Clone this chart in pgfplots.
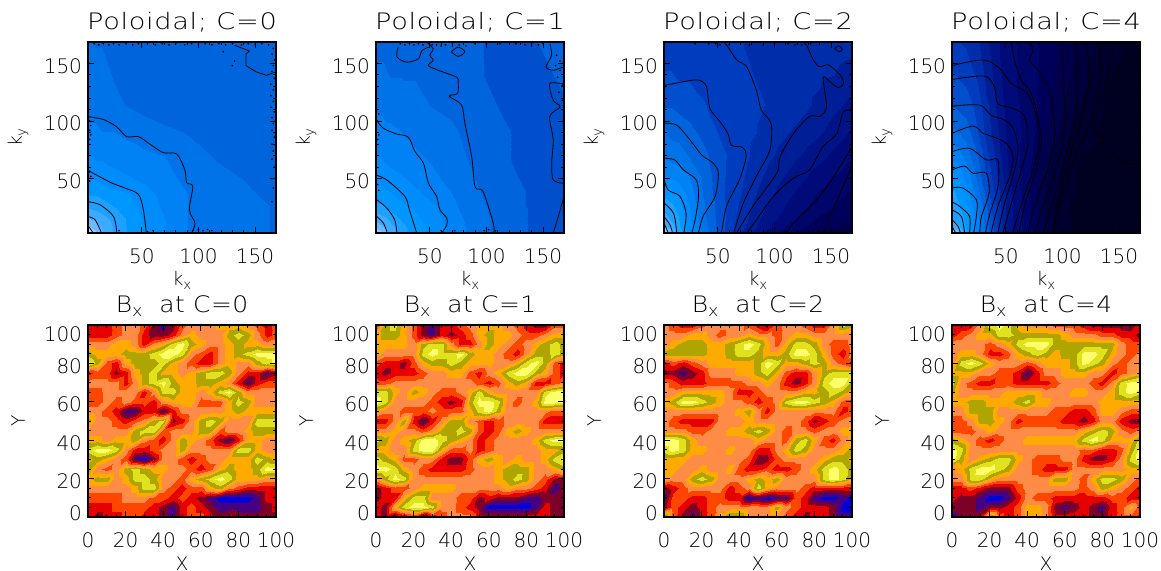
\documentclass[border=0pt]{standalone}
\usepackage{pgfplots}
\usepackage{pgfplotstable}
\usepackage{fontspec}
\setmainfont{DejaVu Sans ExtraLight}
\newfontfamily\ttlt[FakeStretch=1.2,LetterSpace=3]{DejaVu Sans ExtraLight}
\newfontfamily\ttlb[FakeStretch=1.1,LetterSpace=2]{DejaVu Sans ExtraLight}
\pgfplotsset{compat=1.18}
\pgfplotsset{
 colormap={blues}{rgb255=(0,0,32) rgb255=(0,0,46) rgb255=(0,0,60) rgb255=(0,0,75) rgb255=(0,0,90) rgb255=(0,5,105) rgb255=(0,10,120) rgb255=(0,20,135) rgb255=(0,30,150) rgb255=(0,45,170) rgb255=(0,60,190) rgb255=(0,80,205) rgb255=(0,100,220) rgb255=(0,115,232) rgb255=(0,130,245) rgb255=(0,140,250) rgb255=(0,150,255) rgb255=(30,160,255) rgb255=(60,170,255) rgb255=(105,188,255) rgb255=(150,205,255) rgb255=(188,222,255) rgb255=(225,240,255)},
 colormap={fire}{rgb255=(0,0,220) rgb255=(70,0,130) rgb255=(125,0,40) rgb255=(230,0,0) rgb255=(255,70,0) rgb255=(255,140,70) rgb255=(255,170,0) rgb255=(175,165,0) rgb255=(225,225,30) rgb255=(255,255,110)},
 common/.style={
  scale only axis, axis line style={line width=1pt},
  tick style={black,line width=.7pt}, tick align=inside, major tick length=4.5pt, minor tick length=2.5pt,
  xtick pos=both, ytick pos=both, tick label style={font=\fontsize{15}{15}\selectfont},
  /pgf/number format/assume math mode=true,
  title style={at={(axis description cs:0.5,1)}, anchor=base, yshift=3pt},
  label style={font=\fontsize{14}{14}\selectfont},
  ylabel style={at={(axis description cs:-0.372,0.5)}, anchor=center, rotate=0},
  xticklabel style={yshift=-8pt}, yticklabel style={yshift=-2pt,xshift=-1pt},
 },
 top/.style={common, width=141pt, height=143.25pt, xmin=2.5,xmax=168.5,ymin=3,ymax=168.5,
  title style={font=\ttlt\fontsize{17}{17}\selectfont},
  xtick={50,100,150}, ytick={50,100,150}, minor tick num=4, colormap name=blues, point meta min=0, point meta max=11,
  xlabel={k\raisebox{-3pt}{\fontsize{10}{10}\selectfont x}}, ylabel={k\raisebox{-3pt}{\fontsize{10}{10}\selectfont y}},
  xlabel style={at={(axis description cs:0.5,-0.25)},anchor=center}},
 bot/.style={common, width=141pt, height=144pt, xmin=0,xmax=100,ymin=0,ymax=100,
  title style={font=\ttlb\fontsize{17}{17}\selectfont},
  xtick={0,20,...,100}, ytick={0,20,...,100}, minor tick num=3, colormap name=fire, point meta min=-0.5, point meta max=9.5,
  yticklabels={\raisebox{10pt}{0},20,40,60,80,\raisebox{-10pt}{100}\rule{0pt}{11pt}},
  xlabel={X}, ylabel={Y},
  xlabel style={at={(axis description cs:0.5,-0.245)},anchor=center}},
 tg/.style={surf, shader=interp, colormap access=piecewise constant, mesh/cols=12, point meta=\thisrowno{0}},
 bg/.style={surf, shader=interp, colormap access=piecewise constant, mesh/cols=21, point meta=\thisrowno{0}},
 cl/.style={black, line width=.6pt, smooth, tension=.5, no marks},
 dots/.style={only marks, mark=*, mark size=.4pt, black},
}
\newcommand{\tgx}{3+165*((\coordindex-12*floor((\coordindex+0.5)/12))/11)^2}
\newcommand{\tgy}{3+165.5*(floor((\coordindex+0.5)/12)/11)^2}
\newcommand{\bgx}{5*(\coordindex-21*floor((\coordindex+0.5)/21))}
\newcommand{\bgy}{100-5*floor((\coordindex+0.5)/21)}
% one strip of two neighbouring grid rows
\newcommand{\ts}[3]{\addplot[tg, skip coords between index={0}{#1}, skip coords between index={#2}{144}] table[x index=0, y index=0, x expr=\tgx, y expr=\tgy]{#3};}
\newcommand{\bs}[3]{\addplot[bg, skip coords between index={0}{#1}, skip coords between index={#2}{441}] table[x index=0, y index=0, x expr=\bgx, y expr=\bgy]{#3};}
\newcommand{\tsall}[1]{\ts{0}{24}{#1}\ts{12}{36}{#1}\ts{24}{48}{#1}\ts{36}{60}{#1}\ts{48}{72}{#1}\ts{60}{84}{#1}\ts{72}{96}{#1}\ts{84}{108}{#1}\ts{96}{120}{#1}\ts{108}{132}{#1}\ts{120}{144}{#1}}
\newcommand{\bsall}[1]{\bs{0}{42}{#1}\bs{21}{63}{#1}\bs{42}{84}{#1}\bs{63}{105}{#1}\bs{84}{126}{#1}\bs{105}{147}{#1}\bs{126}{168}{#1}\bs{147}{189}{#1}\bs{168}{210}{#1}\bs{189}{231}{#1}\bs{210}{252}{#1}\bs{231}{273}{#1}\bs{252}{294}{#1}\bs{273}{315}{#1}\bs{294}{336}{#1}\bs{315}{357}{#1}\bs{336}{378}{#1}\bs{357}{399}{#1}\bs{378}{420}{#1}\bs{399}{441}{#1}}

\pgfplotstableread[row sep=crcr,header=false]{
11\\10.4\\9.7\\9.1\\8.6\\8.1\\7.6\\7.2\\6.7\\6.4\\6.3\\6.2\\
10.4\\10.2\\9.6\\9.1\\8.6\\8.1\\7.6\\7.2\\6.7\\6.4\\6.3\\6.2\\
9.7\\9.6\\9.4\\9\\8.6\\8.1\\7.6\\7.2\\6.7\\6.4\\6.3\\6.2\\
9.1\\9.1\\9\\8.8\\8.5\\8.1\\7.6\\7.2\\6.7\\6.4\\6.3\\6.2\\
8.6\\8.6\\8.5\\8.4\\8.2\\7.9\\7.5\\7.1\\6.7\\6.4\\6.3\\6.2\\
8.1\\8.1\\8.1\\8\\7.8\\7.7\\7.4\\7\\6.7\\6.4\\6.3\\6.1\\
7.6\\7.6\\7.5\\7.4\\7.3\\7.2\\7\\6.9\\6.5\\6.3\\6.2\\6.1\\
7.2\\7.2\\7.1\\7.1\\7\\6.9\\6.8\\6.7\\6.4\\6.2\\6.1\\6\\
6.8\\6.8\\6.8\\6.7\\6.7\\6.6\\6.4\\6.3\\6.2\\6.1\\6\\6\\
6.5\\6.5\\6.5\\6.4\\6.3\\6.2\\6.1\\6\\6\\6\\6\\6.1\\
6.3\\6.3\\6.3\\6.3\\6.2\\6.1\\6\\5.9\\5.9\\5.9\\6\\6.1\\
6.3\\6.3\\6.2\\6.2\\6.1\\6\\6\\5.9\\5.9\\5.9\\6\\6.1\\
}\tpa
\pgfplotstableread[row sep=crcr,header=false]{
11\\10\\9.4\\8.9\\8.3\\7.9\\7.5\\7\\6.5\\6\\5.7\\5.6\\
10\\9.8\\9.4\\8.9\\8.3\\7.9\\7.5\\7\\6.5\\6\\5.7\\5.6\\
9.4\\9.3\\9.1\\8.8\\8.3\\7.9\\7.5\\7\\6.5\\6\\5.7\\5.6\\
8.9\\8.9\\8.8\\8.5\\8.1\\7.8\\7.4\\6.9\\6.5\\6\\5.7\\5.6\\
8.3\\8.3\\8.2\\8\\7.8\\7.6\\7.3\\6.8\\6.4\\6\\5.7\\5.7\\
7.9\\7.9\\7.8\\7.7\\7.5\\7.3\\7\\6.7\\6.3\\5.9\\5.7\\5.7\\
7.5\\7.5\\7.4\\7.3\\7.2\\7\\6.8\\6.5\\6.2\\5.9\\5.6\\5.7\\
7.2\\7.2\\7.1\\7\\6.9\\6.8\\6.6\\6.4\\6.1\\5.8\\5.6\\5.7\\
6.9\\6.9\\6.9\\6.8\\6.7\\6.5\\6.4\\6.3\\6\\5.8\\5.6\\5.7\\
6.6\\6.6\\6.5\\6.5\\6.4\\6.3\\6.2\\6.1\\5.9\\5.7\\5.6\\5.7\\
6.3\\6.3\\6.3\\6.2\\6.2\\6.2\\6.1\\6\\5.8\\5.6\\5.6\\5.8\\
6.1\\6.1\\6.1\\6.1\\6.1\\6.1\\6\\5.9\\5.8\\5.6\\5.7\\5.9\\
}\tpb
\pgfplotstableread[row sep=crcr,header=false]{
10.8\\10\\9.2\\8.5\\7.5\\6.6\\5.5\\4.4\\3.4\\2.5\\1.9\\1.6\\
10\\9.7\\9.2\\8.5\\7.5\\6.6\\5.5\\4.4\\3.4\\2.5\\1.9\\1.6\\
9.2\\9.1\\8.9\\8.3\\7.4\\6.5\\5.5\\4.5\\3.6\\2.7\\2.1\\1.7\\
8.8\\8.8\\8.5\\8.2\\7.3\\6.4\\5.5\\4.6\\3.7\\3\\2.3\\1.9\\
8.4\\8.4\\8.3\\8\\7.2\\6.3\\5.5\\4.7\\3.9\\3.2\\2.6\\2.1\\
8\\8\\7.9\\7.6\\7\\6.2\\5.4\\4.8\\4.1\\3.4\\2.8\\2.3\\
7.2\\7.2\\7.1\\7\\6.7\\6.1\\5.4\\4.9\\4.3\\3.7\\3.1\\2.6\\
6.7\\6.6\\6.5\\6.4\\6.2\\5.9\\5.4\\5\\4.5\\4\\3.5\\2.9\\
6.3\\6.2\\6.1\\6.1\\5.9\\5.6\\5.2\\5\\4.7\\4.3\\3.9\\3.3\\
5.7\\5.7\\5.7\\5.6\\5.5\\5.3\\5.1\\5\\4.8\\4.6\\4.2\\3.7\\
5.3\\5.3\\5.3\\5.2\\5.2\\5.1\\5\\4.9\\4.7\\4.6\\4.4\\4.2\\
5\\5\\5\\5\\4.9\\4.9\\4.9\\4.8\\4.7\\4.6\\4.5\\4.4\\
}\tpc
\pgfplotstableread[row sep=crcr,header=false]{
10.5\\9.8\\9\\8.2\\7\\5.5\\3.6\\2.5\\1\\.3\\.2\\.2\\
10\\9.6\\9\\8.2\\7\\5.5\\3.6\\2.5\\1\\.3\\.2\\.2\\
9\\8.9\\8.7\\8.1\\7\\5.5\\3.6\\2.5\\1\\.3\\.2\\.2\\
8.6\\8.5\\8.4\\8\\6.9\\5.4\\3.6\\2.5\\1\\.3\\.2\\.2\\
8.4\\8.3\\8.2\\7.8\\6.8\\5.3\\3.6\\2.5\\1\\.3\\.2\\.2\\
8.2\\8.2\\8\\7.5\\6.5\\5.1\\3.6\\2.5\\1.1\\.4\\.2\\.2\\
7.8\\7.8\\7.5\\7\\6.1\\4.8\\3.4\\2.5\\1.2\\.4\\.2\\.2\\
7\\7\\6.9\\6.5\\5.8\\4.6\\3.3\\2.6\\1.4\\.5\\.3\\.2\\
6.3\\6.3\\6.2\\6\\5.3\\4.3\\3.2\\2.7\\1.7\\.7\\.3\\.2\\
5.7\\5.7\\5.6\\5.5\\5.1\\4.1\\3.1\\2.7\\1.9\\1\\.4\\.2\\
5.3\\5.3\\5.2\\5.1\\4.7\\3.9\\3\\2.7\\2\\1.2\\.5\\.2\\
4.8\\4.8\\4.8\\4.7\\4.4\\3.7\\3\\2.7\\2.1\\1.4\\.7\\.2\\
}\tpd

\pgfplotstableread[row sep=crcr,header=false]{
3\\3\\3\\4\\5\\5\\4\\2\\1\\2\\4\\5\\5\\5\\6\\6\\6\\5\\4\\3\\4\\
3\\3\\3\\4\\5\\5\\3\\2\\2\\3\\5\\6\\5\\5\\5\\7\\8\\7\\5\\3\\4\\
5\\5\\5\\6\\6\\5\\3\\5\\6\\8\\9\\7\\6\\5\\5\\6\\7\\6\\6\\5\\5\\
7\\6\\6\\6\\7\\7\\7\\8\\9\\9\\8\\5\\4\\3\\5\\6\\7\\8\\9\\9\\9\\
9\\7\\4\\3\\6\\7\\7\\7\\8\\6\\5\\4\\3\\3\\5\\6\\5\\5\\7\\8\\9\\
3\\4\\4\\2\\3\\6\\7\\8\\6\\6\\5\\6\\7\\8\\8\\7\\5\\3\\3\\1\\2\\
5\\5\\5\\5\\3\\5\\7\\8\\9\\7\\6\\6\\7\\7\\6\\5\\3\\1\\3\\4\\4\\
4\\4\\5\\5\\5\\5\\3\\5\\8\\8\\6\\6\\5\\6\\8\\9\\7\\5\\5\\5\\5\\
4\\4\\5\\4\\5\\4\\4\\3\\5\\6\\6\\6\\4\\4\\4\\6\\8\\7\\5\\5\\5\\
5\\5\\4\\3\\1\\1\\3\\3\\1\\3\\5\\5\\5\\5\\5\\6\\7\\6\\6\\6\\6\\
7\\5\\5\\4\\3\\4\\5\\7\\8\\2\\3\\5\\7\\8\\7\\5\\5\\5\\8\\8\\8\\
5\\5\\5\\5\\5\\7\\8\\8\\4\\5\\5\\5\\7\\7\\4\\5\\5\\6\\7\\7\\7\\
6\\6\\5\\6\\6\\7\\5\\4\\3\\5\\7\\6\\5\\4\\2\\1\\3\\6\\6\\5\\5\\
8\\9\\9\\8\\5\\3\\3\\4\\5\\5\\7\\5\\5\\5\\5\\5\\8\\8\\6\\5\\5\\
6\\7\\6\\5\\4\\1\\0\\2\\5\\5\\4\\3\\4\\5\\5\\6\\6\\6\\8\\7\\6\\
7\\5\\4\\5\\7\\8\\7\\6\\6\\5\\5\\4\\3\\4\\6\\7\\6\\6\\7\\9\\9\\
6\\7\\7\\5\\6\\8\\8\\7\\5\\5\\4\\6\\7\\8\\9\\8\\6\\6\\6\\5\\5\\
5\\5\\5\\5\\5\\6\\8\\8\\5\\4\\3\\4\\4\\6\\7\\5\\4\\3\\3\\3\\3\\
4\\4\\4\\4\\5\\5\\5\\4\\4\\3\\4\\3\\2\\1\\0\\0\\0\\0\\1\\3\\3\\
3\\3\\3\\4\\4\\4\\4\\3\\2\\1\\3\\4\\3\\2\\1\\1\\1\\1\\1\\2\\3\\
3\\2\\3\\3\\4\\4\\3\\3\\2\\1\\3\\4\\4\\3\\2\\3\\2\\2\\2\\2\\2\\
}\bpa
\pgfplotstableread[row sep=crcr,header=false]{
3\\7\\8\\6\\4\\2\\1\\3\\3\\4\\5\\6\\6\\6\\5\\4\\3\\2\\2\\4\\4\\
6\\7\\7\\6\\4\\2\\1\\3\\2\\3\\4\\6\\7\\6\\6\\5\\4\\4\\5\\6\\6\\
6\\6\\6\\6\\5\\7\\8\\8\\5\\3\\3\\5\\7\\6\\5\\4\\5\\6\\7\\8\\7\\
6\\5\\5\\5\\5\\8\\9\\8\\8\\9\\7\\6\\6\\5\\4\\3\\5\\7\\7\\8\\7\\
4\\3\\3\\2\\4\\6\\7\\7\\8\\7\\6\\6\\6\\5\\5\\6\\8\\9\\7\\4\\3\\
3\\2\\3\\3\\3\\4\\5\\5\\6\\6\\4\\3\\5\\6\\8\\9\\9\\7\\6\\4\\3\\
4\\4\\5\\5\\5\\5\\5\\5\\5\\5\\5\\4\\3\\4\\6\\7\\6\\3\\3\\4\\5\\
8\\8\\6\\5\\7\\6\\5\\4\\4\\5\\6\\8\\6\\5\\5\\5\\5\\5\\8\\9\\9\\
9\\8\\5\\5\\5\\5\\4\\3\\2\\3\\7\\9\\9\\8\\5\\4\\5\\6\\9\\9\\9\\
6\\5\\5\\4\\4\\4\\5\\4\\4\\4\\6\\8\\9\\7\\5\\5\\5\\5\\5\\4\\4\\
3\\3\\5\\7\\3\\1\\3\\5\\7\\7\\5\\4\\3\\4\\5\\5\\5\\5\\3\\3\\3\\
5\\5\\6\\5\\5\\4\\5\\7\\7\\8\\7\\4\\3\\4\\6\\7\\6\\5\\5\\5\\5\\
8\\7\\5\\6\\7\\9\\9\\8\\7\\6\\5\\3\\4\\5\\5\\5\\5\\6\\8\\9\\9\\
6\\6\\5\\5\\8\\9\\9\\6\\4\\4\\5\\3\\4\\5\\5\\5\\5\\5\\6\\6\\7\\
8\\7\\6\\4\\4\\5\\5\\3\\2\\2\\4\\6\\7\\6\\5\\6\\5\\5\\6\\8\\9\\
9\\9\\8\\6\\5\\4\\3\\3\\3\\3\\4\\5\\5\\6\\7\\7\\7\\5\\5\\6\\7\\
5\\7\\9\\8\\5\\5\\5\\5\\5\\5\\5\\5\\5\\6\\7\\8\\7\\5\\4\\2\\2\\
2\\3\\4\\4\\5\\6\\6\\6\\6\\5\\5\\5\\5\\5\\6\\5\\5\\4\\3\\1\\2\\
2\\3\\3\\6\\8\\8\\5\\5\\5\\4\\4\\2\\3\\2\\2\\2\\1\\1\\2\\2\\2\\
3\\2\\6\\8\\9\\9\\8\\5\\5\\4\\3\\2\\0\\0\\0\\0\\0\\1\\3\\2\\2\\
3\\2\\1\\2\\3\\0\\3\\4\\5\\5\\5\\3\\3\\3\\3\\3\\3\\3\\3\\2\\2\\
}\bpb
\pgfplotstableread[row sep=crcr,header=false]{
5\\4\\3\\3\\4\\5\\5\\5\\5\\4\\3\\2\\4\\5\\5\\4\\3\\3\\5\\8\\7\\
5\\5\\5\\6\\6\\5\\4\\5\\5\\6\\5\\5\\4\\5\\6\\6\\5\\5\\5\\5\\5\\
5\\6\\7\\7\\7\\6\\6\\7\\8\\9\\8\\6\\4\\6\\8\\8\\7\\5\\4\\4\\5\\
7\\7\\7\\7\\7\\6\\6\\7\\8\\8\\7\\6\\6\\7\\9\\9\\8\\6\\4\\3\\5\\
3\\4\\3\\4\\5\\6\\6\\6\\6\\6\\7\\9\\8\\6\\6\\7\\8\\7\\5\\4\\3\\
2\\2\\1\\2\\3\\5\\5\\5\\6\\6\\7\\8\\6\\4\\3\\3\\5\\7\\8\\8\\8\\
5\\4\\3\\3\\3\\4\\4\\4\\4\\5\\5\\6\\5\\3\\2\\3\\5\\8\\9\\9\\7\\
5\\5\\6\\6\\6\\6\\6\\5\\3\\3\\4\\5\\5\\5\\5\\6\\6\\7\\8\\7\\6\\
6\\7\\9\\9\\8\\7\\6\\5\\5\\4\\3\\4\\5\\8\\9\\9\\8\\7\\6\\4\\4\\
5\\5\\5\\5\\5\\5\\5\\5\\6\\7\\5\\3\\5\\5\\5\\5\\5\\5\\5\\3\\4\\
5\\4\\3\\3\\3\\3\\5\\5\\5\\6\\5\\5\\5\\5\\5\\4\\2\\3\\4\\5\\5\\
5\\5\\5\\4\\4\\5\\5\\6\\6\\7\\8\\7\\5\\4\\5\\5\\4\\5\\5\\6\\6\\
9\\9\\8\\6\\5\\5\\5\\5\\5\\5\\6\\5\\5\\4\\7\\8\\6\\4\\3\\5\\6\\
8\\9\\8\\6\\6\\5\\5\\6\\5\\5\\3\\3\\5\\6\\8\\7\\5\\5\\5\\6\\7\\
6\\6\\6\\5\\5\\5\\5\\5\\5\\4\\2\\2\\4\\5\\5\\5\\5\\6\\7\\7\\6\\
6\\6\\5\\5\\6\\5\\5\\6\\4\\3\\3\\4\\3\\3\\4\\5\\6\\8\\9\\8\\7\\
6\\5\\5\\7\\8\\7\\5\\5\\5\\6\\7\\6\\7\\5\\5\\5\\5\\8\\9\\8\\6\\
2\\3\\4\\5\\5\\5\\5\\3\\4\\5\\8\\6\\5\\5\\5\\4\\3\\3\\3\\3\\3\\
1\\4\\4\\3\\3\\4\\4\\3\\3\\0\\1\\0\\1\\1\\4\\3\\1\\0\\0\\1\\0\\
2\\4\\3\\2\\3\\4\\5\\5\\5\\5\\5\\5\\7\\5\\4\\3\\3\\3\\2\\0\\0\\
8\\4\\2\\1\\3\\4\\6\\8\\8\\5\\5\\5\\5\\4\\3\\2\\3\\3\\2\\1\\1\\
}\bpc
\pgfplotstableread[row sep=crcr,header=false]{
3\\3\\3\\5\\8\\9\\8\\6\\5\\5\\5\\4\\4\\4\\3\\2\\2\\2\\2\\2\\3\\
3\\4\\5\\6\\6\\8\\8\\7\\7\\7\\7\\7\\6\\5\\5\\5\\4\\4\\3\\3\\2\\
5\\5\\5\\5\\4\\5\\6\\8\\9\\9\\9\\7\\7\\7\\7\\7\\7\\7\\5\\4\\4\\
5\\6\\6\\5\\3\\3\\4\\6\\7\\8\\7\\6\\7\\7\\9\\9\\8\\6\\5\\4\\5\\
5\\8\\9\\8\\6\\5\\5\\5\\4\\5\\6\\6\\6\\7\\9\\8\\7\\5\\4\\5\\5\\
6\\6\\6\\5\\5\\4\\4\\3\\1\\3\\5\\5\\6\\6\\6\\5\\5\\3\\4\\5\\6\\
8\\5\\4\\3\\3\\4\\4\\3\\3\\3\\3\\4\\5\\5\\5\\4\\3\\5\\8\\9\\9\\
7\\5\\5\\5\\5\\5\\6\\6\\6\\6\\5\\5\\5\\6\\6\\5\\5\\6\\8\\9\\8\\
6\\6\\7\\7\\6\\6\\6\\7\\8\\6\\6\\5\\5\\5\\5\\5\\6\\6\\6\\6\\6\\
5\\5\\7\\7\\7\\5\\5\\5\\5\\5\\5\\4\\4\\3\\3\\4\\6\\6\\5\\4\\4\\
4\\4\\5\\7\\7\\6\\5\\3\\4\\4\\4\\4\\3\\3\\2\\3\\5\\5\\3\\2\\2\\
4\\4\\4\\5\\6\\5\\5\\5\\5\\5\\5\\5\\5\\5\\6\\7\\8\\7\\5\\4\\5\\
7\\6\\5\\4\\3\\4\\5\\5\\6\\6\\6\\6\\6\\6\\8\\9\\8\\6\\6\\6\\8\\
9\\8\\5\\5\\5\\5\\5\\5\\5\\5\\5\\5\\5\\5\\4\\4\\3\\3\\4\\7\\9\\
9\\7\\5\\6\\7\\8\\8\\6\\5\\4\\4\\4\\5\\5\\3\\2\\2\\3\\5\\8\\9\\
5\\6\\8\\9\\9\\8\\7\\5\\5\\4\\3\\3\\3\\5\\5\\5\\5\\5\\5\\6\\6\\
5\\5\\8\\8\\6\\5\\5\\5\\5\\5\\5\\7\\7\\5\\4\\6\\8\\8\\7\\5\\4\\
3\\3\\4\\3\\2\\2\\2\\4\\5\\5\\5\\5\\5\\5\\4\\5\\7\\6\\5\\4\\3\\
3\\2\\2\\1\\0\\0\\1\\3\\5\\4\\4\\3\\3\\3\\3\\3\\3\\4\\4\\3\\3\\
2\\2\\2\\1\\2\\2\\3\\4\\6\\6\\5\\2\\1\\2\\3\\2\\1\\3\\4\\6\\4\\
1\\2\\2\\3\\8\\4\\3\\4\\6\\6\\5\\3\\3\\3\\3\\2\\2\\3\\4\\4\\3\\
}\bpd

\begin{document}
\begin{tikzpicture}
\useasboundingbox (0,30pt) rectangle (870.75pt,458.25pt);
% ---------- Poloidal C=0
\begin{axis}[top, hide axis, at={(66pt,283.5pt)}, anchor=south west]
\tsall{\tpa}
\addplot[cl] coordinates {(3,103.7)(16,101.4)(27.8,95)(36.6,86.5)(47,86.5)(57.2,80)(69,72.6)(80.8,71.5)(88,57.7)(89.6,46.7)(95,43.3)(92,23)(97,11.6)(94,3)};
\addplot[cl] coordinates {(3,57)(22,47)(35,42)(47,36.5)(51.4,23)(54,3)};
\addplot[cl] coordinates {(3,30)(13,27.5)(25,17.4)(28,3)};
\addplot[cl] coordinates {(3,17)(8.7,14.5)(14.5,3)};
\addplot[cl] coordinates {(3,9)(7,3)};
\addplot[black,line width=.6pt] coordinates {(132,165.6)(145,160.7)(142,158)(142,148)(151,142.6)(160,139.7)(168.5,142.6)};
\addplot[dots] coordinates {(8,167)(12,166)(16,167)(21,166)(25,167)(30,166)(36,167)(42,166)(47,167)(55,167)(62,166)(68,167)(74,166)(80,167)(88,166)(94,167)(100,166)(106,167)(112,166)(118,167)(124,166)(130,167)(138,166)(144,167)(150,166)(156,167)(162,166)(166,163)(165,158)(167,153)(166,148)(165,143)(167,137)(164,132)(166,127)(164,122)(166,117)(164,112)(167,108)(165,103)(166,98)(165,92)(167,86)(165,80)(166,74)(165,67)(167,60)(165,50)(166,42)(165,30)(4,100)(5,96)(4,92)(5,88)(4,84)(3,80)(4,56)(5,52)(4,48)(95,5)(100,6)(104,5)(108,6)(112,5)(30,5)(55,4)(60,5)(122,160)(132,152)(130,148)};
\end{axis}
\begin{axis}[top, at={(66pt,283.5pt)}, anchor=south west, title={Poloidal; C=0}]
\end{axis}
% ---------- Poloidal C=1
\begin{axis}[top, hide axis, at={(282pt,283.5pt)}, anchor=south west]
\tsall{\tpb}
\addplot[cl] coordinates {(3,100.8)(9,93.7)(20.7,88.8)(31,86)(37,73.5)(44.4,63.4)(48.8,46.2)(56,34.7)(59,23)(65,16)(65,10)(60.7,3)};
\addplot[cl] coordinates {(47,168.5)(53,162.7)(50,157)(53,152.7)(48.7,148)(57.5,144)(73.7,138)(75,134)(74.6,124)(67,121.6)(78,114)(81,98)(87,69)(90,43)(97,39)(106,11.6)(106.7,3)};
\addplot[cl] coordinates {(3,53)(12,49)(28,34.7)(32,23)(38.4,3)};
\addplot[cl] coordinates {(3,32)(12,24.6)(19,14.5)(21,3)};
\addplot[cl] coordinates {(3,17.4)(9,11.6)(12.5,3)};
\addplot[cl] coordinates {(22,164)(21,155.6)(29.6,151)(40,154)(43,161)(49,164)};
\addplot[cl] coordinates {(69,160)(75,164)(81,160)(75,156)(69,160)};
\addplot[cl] coordinates {(156,167)(157.6,157)(152.6,147)(159,144)(168,147)};
\addplot[cl] coordinates {(168,132)(156,132.5)(159,118)(165,112.4)(156,104)(159,83.6)(157.6,63.4)(159,49)(168,46)};
\addplot[cl] coordinates {(168.5,34.7)(163.5,17.4)(159,3)};
\addplot[dots] coordinates {(24,167)(28,166)(32,167)(36,166)(40,167)(44,166)(52,166)(56,166)(60,165)(64,166)(70,165)(76,166)(82,165)(90,167)(100,167)(112,167)(126,167)(134,166)(140,165)(146,166)(150,167)(162,157)(165,152)(161,148)(165,144)(163,138)(167,131)(164,125)(167,118)(4,110)(5,106)(4,100)(5,88)(4,84)(4,45)(5,40)(98,5)(102,6)(108,5)(72,5)(60,5)};
\end{axis}
\begin{axis}[top, at={(282pt,283.5pt)}, anchor=south west, title={Poloidal; C=1}]
\end{axis}
% ---------- Poloidal C=2
\begin{axis}[top, hide axis, at={(498pt,283.5pt)}, anchor=south west]
\tsall{\tpc}
\addplot[cl] coordinates {(2.5,131)(9,132)(22,134.5)(33,135.5)(40,130)(43,111)(52,99.4)(59,89)(62,79)(72,77)(75,69)(69,49)(57.6,26)(53.4,3)};
\addplot[cl] coordinates {(55,168.5)(58,165.6)(67,152.7)(75.5,147)(84,127)(88.4,109.5)(97,98)(96,75)(84,52)(72.6,29)(64,3)};
\addplot[cl] coordinates {(125,168.5)(128.5,165.6)(134.4,152.7)(140,147)(147.6,148.6)(158,140)(161,133)(156.4,129)(149,134)(143,137.6)(146,112.4)(140,104)(131,104)(116.7,89)(105,69)(102,54.8)(81,26)(66.6,3)};
\addplot[cl] coordinates {(168.5,109)(160.8,108)(155,89)(143,78)(131,57.7)(116.7,50.5)(99,34.7)(84.3,14.5)(75.5,3)};
\addplot[cl] coordinates {(168.5,78)(158,60.6)(140,34.7)(116.7,11.6)(111,3)};
\addplot[cl] coordinates {(168.5,60.6)(158,37.5)(143,3)};
\addplot[cl] coordinates {(2.5,98)(13.7,96.5)(25.5,83.6)(35.8,70.6)(46,63.4)(50.5,54.8)(47.6,34.7)(37,17.4)(33,3)};
\addplot[cl] coordinates {(2.5,67.8)(12,66.3)(19.6,57.7)(31,49)(33,34.7)(30,14.5)(27,3)};
\addplot[cl] coordinates {(2.5,50.5)(6,40.4)(16.6,34.7)(22,20)(20,3)};
\addplot[cl] coordinates {(2.5,29)(11,20)(13.7,3)};
\addplot[cl] coordinates {(2.5,17.4)(7.8,10)(10,3)};
\addplot[cl] coordinates {(2.5,11.6)(6.3,3)};
\addplot[cl] coordinates {(153,163)(157,165)(160,162)(157,160)(153,163)};
\addplot[dots] coordinates {(30,167)(42,167)(48,167)(52,166)(60,166)(70,167)(78,166)(90,166)(100,167)(112,167)(118,166)(124,166)(132,167)};
\end{axis}
\begin{axis}[top, at={(498pt,283.5pt)}, anchor=south west, title={Poloidal; C=2}]
\end{axis}
% ---------- Poloidal C=4
\begin{axis}[top, hide axis, at={(714pt,283.5pt)}, anchor=south west]
\tsall{\tpd}
\addplot[cl] coordinates {(2.5,148)(29.9,153)(44.6,145.5)(54.9,132.5)(68,125)(75.5,109.5)(80,83.6)(74,57.7)(65,31.8)(56,3)};
\addplot[cl] coordinates {(2.5,136)(31,139)(40,129.6)(43,115)(56.4,111)(66.7,103.7)(69.6,80.7)(63.7,57.7)(55,29)(47.5,3)};
\addplot[cl] coordinates {(2.5,113)(27,113.8)(37,105)(49,100.8)(56.4,93.7)(60.8,77.8)(57.8,57.7)(49,29)(43,3)};
\addplot[cl] coordinates {(2.5,89.3)(21,95.7)(30,89.3)(38.7,86.5)(50.5,80.7)(56.4,69)(53.4,52)(43,26)(37,3)};
\addplot[cl] coordinates {(2.5,73.5)(18,76.4)(32.8,66.3)(43,66.3)(43,43)(36,20)(32,3)};
\addplot[cl] coordinates {(2.5,57.7)(13.7,61)(21,54.8)(32.8,54.8)(35.2,37.5)(28.4,17)(27,3)};
\addplot[cl] coordinates {(2.5,42)(12,42)(24,31.8)(24,17.4)(21.6,3)};
\addplot[cl] coordinates {(2.5,30)(9.3,26)(18,17.4)(18,3)};
\addplot[cl] coordinates {(2.5,23)(10.7,17.4)(13.7,3)};
\addplot[cl] coordinates {(2.5,14.5)(7.8,8.8)(9.9,3)};
\addplot[cl] coordinates {(2.5,8.8)(5.7,3)};
\addplot[cl] coordinates {(54.9,168.5)(57.8,152.7)(63.7,135.4)(71,126.8)(77,109.5)(81.4,83.6)(77,57.7)(68,31.8)(61.4,3)};
\addplot[cl] coordinates {(71.7,168.5)(74,161)(71,152.7)(78.4,144)(87.3,129.6)(91.7,109.5)(93,83.6)(87,57.7)(77,31.8)(69.6,3)};
\addplot[cl] coordinates {(99.9,168.5)(100.5,147)(102,109.5)(100.5,83.6)(93,54.8)(82.8,26)(75.5,3)};
\addplot[cl] coordinates {(110.8,168.5)(112.3,147)(112.3,112)(106.4,83.6)(99,54.8)(90,26)(82.8,3)};
\addplot[cl] coordinates {(121,168.5)(124,138)(118,106)(109.3,78)(100.5,49)(91.7,3)};
\addplot[cl] coordinates {(132.9,168.5)(134.3,141)(127,103.7)(113.7,75)(103.4,46)(97.6,26)(90,3)};
\addplot[cl] coordinates {(142.3,168.5)(143.2,155.5)(135.8,121)(128.5,95)(130,89)(137.3,84)(134.3,76)(147.6,69)(159.4,63)(168.5,63)};
\end{axis}
\begin{axis}[top, at={(714pt,283.5pt)}, anchor=south west, title={Poloidal; C=4}]
\end{axis}
% ---------- Bx
\begin{axis}[bot, hide axis, at={(66pt,70.5pt)}, anchor=south west]
\bsall{\bpa}
\end{axis}
\begin{axis}[bot, at={(66pt,70.5pt)}, anchor=south west, title={B\raisebox{-3pt}{\fontsize{12}{12}\selectfont x} \ at C=0}]
\end{axis}
\begin{axis}[bot, hide axis, at={(282pt,70.5pt)}, anchor=south west]
\bsall{\bpb}
\end{axis}
\begin{axis}[bot, at={(282pt,70.5pt)}, anchor=south west, title={B\raisebox{-3pt}{\fontsize{12}{12}\selectfont x} \ at C=1}]
\end{axis}
\begin{axis}[bot, hide axis, at={(498pt,70.5pt)}, anchor=south west]
\bsall{\bpc}
\end{axis}
\begin{axis}[bot, at={(498pt,70.5pt)}, anchor=south west, title={B\raisebox{-3pt}{\fontsize{12}{12}\selectfont x} \ at C=2}]
\end{axis}
\begin{axis}[bot, hide axis, at={(714pt,70.5pt)}, anchor=south west]
\bsall{\bpd}
\end{axis}
\begin{axis}[bot, at={(714pt,70.5pt)}, anchor=south west, title={B\raisebox{-3pt}{\fontsize{12}{12}\selectfont x} \ at C=4}]
\end{axis}
\end{tikzpicture}
\end{document}
